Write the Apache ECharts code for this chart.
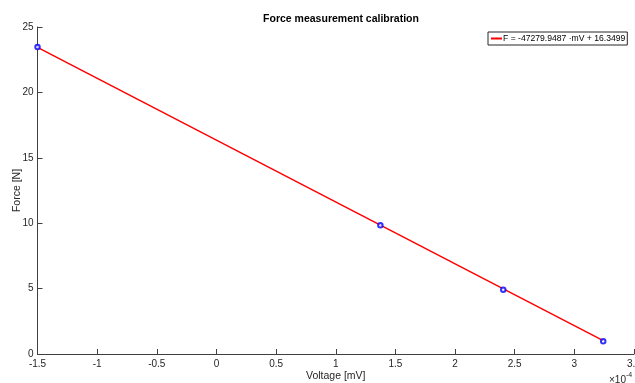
<!DOCTYPE html>
<html>
<head>
<meta charset="utf-8">
<script src="https://cdn.jsdelivr.net/npm/echarts@6/dist/echarts.min.js"></script>
<style>
  html, body { margin: 0; padding: 0; background: #fff; }
  #chart { width: 635px; height: 383px; }
</style>
</head>
<body>
<div id="chart"></div>
<script>
// Measured calibration points: voltage (mV) and applied force (N)
const voltageMv = [-1.5e-4, 1.374e-4, 2.404e-4, 3.242e-4];
const forceN = [23.47, 9.84, 4.92, 0.97];

// Linear fit coefficients: F = slope * mV + intercept
const fitSlope = -47279.9487;
const fitIntercept = 16.3499;

// Axis scale factor shown as ×10^-4
const xScale = 1e-4;
const xTicks = [-1.5, -1, -0.5, 0, 0.5, 1, 1.5, 2, 2.5, 3, 3.5];
const yTicks = [0, 5, 10, 15, 20, 25];

const fitLabel = 'F = ' + fitSlope.toFixed(4) + ' ·mV + ' + fitIntercept.toFixed(4);

const pointData = voltageMv.map((v, i) => [v / xScale, forceN[i]]);
const xLo = Math.min(...voltageMv), xHi = Math.max(...voltageMv);
const fitData = [xLo, xHi].map(v => [v / xScale, fitSlope * v + fitIntercept]);

const FONT = '"Liberation Sans", Arial, Helvetica, sans-serif';
const AX = '#404040';

const chart = echarts.init(document.getElementById('chart'), null, { renderer: 'canvas' });
chart.setOption({
  animation: false,
  backgroundColor: '#ffffff',
  title: {
    text: 'Force measurement calibration',
    left: 336, top: 9, textAlign: 'center',
    textStyle: { fontFamily: FONT, fontSize: 10.5, fontWeight: 'bold', color: '#000' }
  },
  grid: { left: 37.5, right: 1, top: 27, bottom: 29, containLabel: false, outerBoundsMode: 'none' },
  legend: {
    data: [fitLabel],
    left: 488, top: 32,
    orient: 'vertical',
    padding: [2, 2, 2, 2],
    itemWidth: 11, itemHeight: 2,
    itemGap: 2,
    borderColor: '#262626', borderWidth: 1,
    backgroundColor: '#fff',
    textStyle: { fontFamily: FONT, fontSize: 8.6, color: '#000', padding: [0, 0, 0, -4] }
  },
  xAxis: {
    type: 'value',
    min: xTicks[0], max: xTicks[xTicks.length - 1], interval: 0.5,
    name: 'Voltage [mV]', nameLocation: 'middle', nameGap: 17, nameMoveOverlap: false,
    nameTextStyle: { fontFamily: FONT, fontSize: 10.5, color: '#262626' },
    axisLine: { onZero: false, lineStyle: { color: AX, width: 1 } },
    axisTick: { inside: true, length: 5, lineStyle: { color: AX } },
    splitLine: { show: false },
    axisLabel: {
      margin: 5, fontFamily: FONT, fontSize: 10, color: '#262626',
      formatter: v => String(Math.round(v * 100) / 100)
    }
  },
  yAxis: {
    type: 'value',
    min: yTicks[0], max: yTicks[yTicks.length - 1], interval: 5,
    name: 'Force [N]', nameLocation: 'middle', nameGap: 15, nameRotate: 90, nameMoveOverlap: false,
    nameTextStyle: { fontFamily: FONT, fontSize: 10.5, color: '#262626' },
    axisLine: { show: true, onZero: false, lineStyle: { color: AX, width: 1 } },
    axisTick: { show: true, inside: true, length: 5, lineStyle: { color: AX } },
    splitLine: { show: false },
    axisLabel: { margin: 4, fontFamily: FONT, fontSize: 10, color: '#262626' }
  },
  graphic: [{
    type: 'text',
    left: 609, top: 372,
    style: {
      text: '{a|×10}{b|-4}',
      rich: {
        a: { fontFamily: FONT, fontSize: 10, fill: '#262626', verticalAlign: 'bottom' },
        b: { fontFamily: FONT, fontSize: 7, fill: '#262626', verticalAlign: 'top', padding: [0, 0, 6, 0] }
      }
    }
  }],
  series: [
    {
      name: fitLabel,
      type: 'line',
      data: fitData,
      symbol: 'none',
      lineStyle: { color: '#ff0000', width: 1.5 },
      itemStyle: { color: '#ff0000' },
      z: 2
    },
    {
      name: 'points',
      type: 'scatter',
      data: pointData,
      symbol: 'emptyCircle',
      symbolSize: 4.5,
      itemStyle: { color: '#0000ff', borderColor: '#0000ff', borderWidth: 1.5 },
      z: 3
    }
  ]
});
</script>
</body>
</html>
